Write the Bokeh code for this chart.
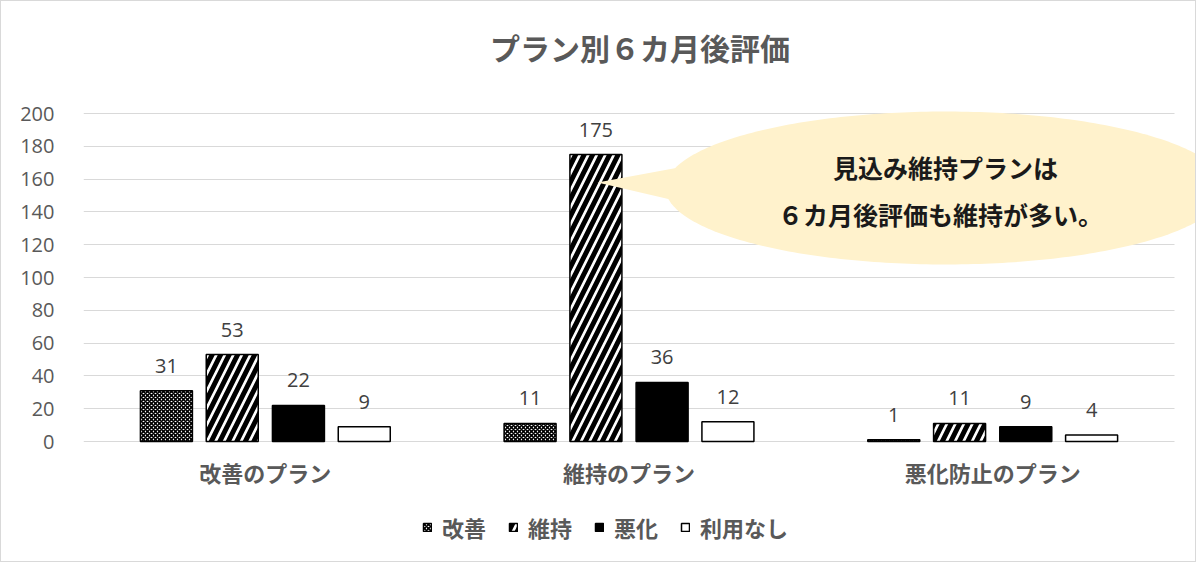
import numpy as np
from bokeh.plotting import figure
from bokeh.models import (ColumnDataSource, Range1d, LabelSet, Label,
                          Legend, LegendItem, PolyAnnotation, FixedTicker)
from bokeh.transform import dodge
from bokeh.core.properties import value
from bokeh.embed import file_html
from bokeh.resources import INLINE

# ---- data ----
plans = ["改善のプラン", "維持のプラン", "悪化防止のプラン"]
series_names = ["改善", "維持", "悪化", "利用なし"]
kaizen = [31, 11, 1]
iji = [53, 175, 11]
akka = [22, 36, 9]
riyou_nashi = [9, 12, 4]
y_ticks = [0, 20, 40, 60, 80, 100, 120, 140, 160, 180, 200]
title_text = "プラン別６カ月後評価"
callout_lines = ["見込み維持プランは", "６カ月後評価も維持が多い。"]

JP = "Noto Sans CJK JP"
NUM = "Open Sans"
GRAY = "#595959"
CALLOUT = "#FFF2CC"

centers = [i + 0.5 for i in range(len(plans))]
src = ColumnDataSource(dict(
    xc=centers, plans=plans,
    kaizen=kaizen, iji=iji, akka=akka, nashi=riyou_nashi,
    kaizen_t=[str(v) for v in kaizen], iji_t=[str(v) for v in iji],
    akka_t=[str(v) for v in akka], nashi_t=[str(v) for v in riyou_nashi],
))

PXU = 363.67   # px per category
PXV = 1.64     # px per value unit
FRAME_TOP = 75  # page px
FRAME_BOTTOM = 563


def px2x(px):
    return (px - 83) / PXU


def py2y(py):
    return (441 - py) / PXV


p = figure(x_range=Range1d(0, px2x(1196)),
           y_range=Range1d(py2y(FRAME_BOTTOM), py2y(FRAME_TOP)),
           width=1196, height=562, output_backend="svg", toolbar_location=None,
           min_border_left=82, min_border_right=1, min_border_top=FRAME_TOP - 1,
           min_border_bottom=0)
p.styles = {"border": "1px solid #D9D9D9"}
p.outline_line_color = None
p.background_fill_color = "white"
p.border_fill_color = "white"

p.title.text = title_text
p.title.align = "center"
p.title.text_font = JP
p.title.text_font_style = "bold"
p.title.text_font_size = "30px"
p.title.text_color = GRAY
p.title.standoff = 14

p.xgrid.grid_line_color = None
p.ygrid.grid_line_color = "#D9D9D9"
p.ygrid.grid_line_width = 1
p.ygrid.ticker = FixedTicker(ticks=y_ticks)
p.ygrid.cross_bounds = (0, 3)

p.yaxis.ticker = FixedTicker(ticks=y_ticks)
p.yaxis.axis_line_color = None
p.yaxis.major_tick_line_color = None
p.yaxis.minor_tick_line_color = None
p.yaxis.major_label_text_font = NUM
p.yaxis.major_label_text_font_size = "20px"
p.yaxis.major_label_text_color = GRAY
p.yaxis.major_label_standoff = 23
p.xaxis.visible = False

offsets = [-0.272, -0.091, 0.091, 0.272]
bw = 0.143
cols = ["kaizen", "iji", "akka", "nashi"]
styles = [
    dict(fill_color="white", hatch_pattern="x", hatch_scale=4, hatch_weight=1.6, hatch_color="black"),
    dict(fill_color="white", hatch_pattern="/", hatch_scale=17, hatch_weight=5, hatch_color="black"),
    dict(fill_color="black"),
    dict(fill_color="white"),
]
renderers = []
for col, off, st in zip(cols, offsets, styles):
    r = p.vbar(x=dodge("xc", off), top=col, width=bw, source=src,
               line_color="black", line_width=1.5, **st)
    renderers.append(r)

# category labels
p.add_layout(LabelSet(x="xc", y=py2y(471), text="plans", source=src,
                      text_align="center", text_baseline="middle",
                      text_font=value(JP), text_font_style="bold", text_font_size="22px",
                      text_color=GRAY))

# callout bubble (shape geometry in screen px converted to data)
ecx, ecy, ea, eb = 945, 187.5, 280, 76.5
t = np.linspace(0, 2 * np.pi, 300)
ex = [px2x(ecx + ea * np.cos(a)) for a in t]
ey = [py2y(ecy + eb * np.sin(a)) for a in t]
tail_px = [(597, 182), (700, 163), (700, 206)]
p.add_layout(PolyAnnotation(xs=[px2x(a) for a, _ in tail_px], ys=[py2y(b) for _, b in tail_px],
                            fill_color=CALLOUT, fill_alpha=1, line_color=None))
p.add_layout(PolyAnnotation(xs=ex, ys=ey, fill_color=CALLOUT, fill_alpha=1, line_color=None))

for col, off in zip(cols, offsets):
    p.add_layout(LabelSet(x=dodge("xc", off), y=col, text=col + "_t",
                          source=src, text_align="center", text_baseline="middle", y_offset=25,
                          text_font=value(NUM), text_font_size="20px", text_color="#404040"))

p.add_layout(Label(x=px2x(945), y=py2y(166), text=callout_lines[0],
                   text_align="center", text_baseline="middle", text_font=JP,
                   text_font_style="bold", text_font_size="25px", text_color="#1a1a1a"))
p.add_layout(Label(x=px2x(940), y=py2y(213), text=callout_lines[1],
                   text_align="center", text_baseline="middle", text_font=JP,
                   text_font_style="bold", text_font_size="25px", text_color="#1a1a1a"))

legend = Legend(items=[LegendItem(label=n, renderers=[r]) for n, r in zip(series_names, renderers)],
                orientation="horizontal", location=(339, 20), margin=0,
                glyph_width=10, glyph_height=10, label_standoff=10, spacing=22, padding=0,
                label_text_font=JP, label_text_font_style="bold", label_text_font_size="22px",
                label_text_color=GRAY, border_line_color=None, background_fill_alpha=0)
p.add_layout(legend, "center")

open("out.html", "w").write(file_html(p, INLINE))
